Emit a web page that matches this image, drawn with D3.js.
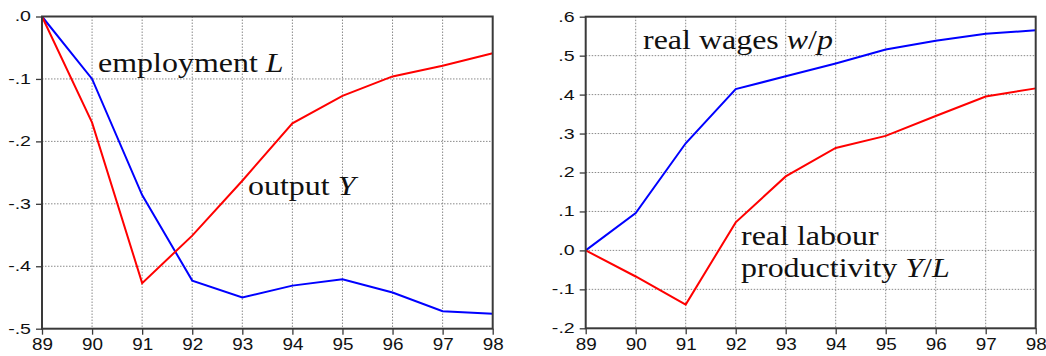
<!DOCTYPE html>
<html lang="en">
<head>
<meta charset="UTF-8">
<script src="https://d3js.org/d3.v7.min.js"></script>
<style>
    body { margin: 0; background: white; }
    svg { display: block; }
    .tick text { font-family: "Liberation Sans", Arial, sans-serif; fill: #111; }
    .lbl { font-family: "Liberation Serif", "Times New Roman", serif; fill: #111; }
</style>
</head>
<body>
<div id="chart"></div>
<script>
    // years on the x axis
    const years = ["89", "90", "91", "92", "93", "94", "95", "96", "97", "98"];

    // left panel
    const employment = [0, -0.100, -0.286, -0.423, -0.450, -0.431, -0.421, -0.442, -0.472, -0.476];
    const output = [0, -0.170, -0.427, -0.351, -0.263, -0.171, -0.127, -0.096, -0.079, -0.059];
    const leftTicks = [0, -0.1, -0.2, -0.3, -0.4, -0.5];

    // right panel
    const wages = [0, 0.096, 0.275, 0.414, 0.447, 0.480, 0.516, 0.538, 0.556, 0.565];
    const productivity = [0, -0.067, -0.139, 0.072, 0.190, 0.263, 0.294, 0.345, 0.395, 0.416];
    const rightTicks = [0.6, 0.5, 0.4, 0.3, 0.2, 0.1, 0, -0.1, -0.2];

    const W = 1046, H = 356;
    const svg = d3.select("#chart").append("svg")
        .attr("width", W)
        .attr("height", H);

    // ".0", "-.1" style labels with a plain hyphen
    const fmt = d => d3.format(".1f")(d).replace("\u2212", "-").replace("0.", ".");

    function panel(box, domain, ticks, series) {
        const x = d3.scalePoint().domain(years).range([box.left, box.right]);
        const y = d3.scaleLinear().domain(domain).range([box.bottom, box.top]);
        const g = svg.append("g");

        // dotted grid
        g.append("g").selectAll("line")
            .data(years.slice(1, -1))
            .enter().append("line")
            .attr("x1", d => x(d)).attr("x2", d => x(d))
            .attr("y1", box.top).attr("y2", box.bottom)
            .attr("stroke", "#8a8a8a").attr("stroke-dasharray", "1.5,1.5");
        g.append("g").selectAll("line")
            .data(ticks.slice(1, -1))
            .enter().append("line")
            .attr("x1", box.left).attr("x2", box.right)
            .attr("y1", d => y(d)).attr("y2", d => y(d))
            .attr("stroke", "#8a8a8a").attr("stroke-dasharray", "1.5,1.5");

        // series
        const line = d3.line()
            .x((d, i) => x(years[i]))
            .y(d => y(d));
        series.forEach(s => {
            g.append("path")
                .datum(s.values)
                .attr("fill", "none")
                .attr("stroke", s.color)
                .attr("stroke-width", 2)
                .attr("d", line);
        });

        // frame
        g.append("rect")
            .attr("x", box.left).attr("y", box.top)
            .attr("width", box.right - box.left)
            .attr("height", box.bottom - box.top)
            .attr("fill", "none")
            .attr("stroke", "#3a3a3a")
            .attr("stroke-width", 2);

        // axes
        const ax = g.append("g")
            .attr("transform", `translate(0,${box.bottom})`)
            .call(d3.axisBottom(x).tickSize(6).tickSizeOuter(0));
        ax.select(".domain").remove();
        ax.selectAll(".tick line").attr("stroke", "#3a3a3a").attr("stroke-width", 1.3);
        ax.selectAll(".tick text")
            .style("font-size", "16px")
            .attr("y", 10)
            .attr("transform", "scale(1.18,1)");

        const ay = g.append("g")
            .attr("transform", `translate(${box.left},0)`)
            .call(d3.axisLeft(y).tickValues(ticks).tickFormat(fmt).tickSize(6).tickSizeOuter(0));
        ay.select(".domain").remove();
        ay.selectAll(".tick line").attr("stroke", "#3a3a3a").attr("stroke-width", 1.3);
        ay.selectAll(".tick text")
            .style("font-size", "14px")
            .attr("x", -11 / 1.4)
            .attr("transform", "scale(1.4,1)");
    }

    panel({ left: 42, right: 492.7, top: 16.5, bottom: 328.7 }, [-0.5, 0], leftTicks, [
        { values: employment, color: "#0000ff" },
        { values: output, color: "#ff0000" }
    ]);
    panel({ left: 585.7, right: 1035.7, top: 16.7, bottom: 328.3 }, [-0.2, 0.6], rightTicks, [
        { values: wages, color: "#0000ff" },
        { values: productivity, color: "#ff0000" }
    ]);

    // serif labels: parts = [text, italic?]
    function label(px, py, parts) {
        const t = svg.append("text")
            .attr("class", "lbl")
            .attr("transform", `translate(${px},${py}) scale(1.23,1.08)`)
            .style("font-size", "26px");
        parts.forEach(p => {
            t.append("tspan")
                .style("font-style", p[1] ? "italic" : "normal")
                .text(p[0]);
        });
    }

    label(98, 71.5, [["employment ", false], ["L", true]]);
    label(248, 195, [["output ", false], ["Y", true]]);
    label(643, 48.5, [["real wages ", false], ["w", true], ["/", false], ["p", true]]);
    label(741, 245, [["real labour", false]]);
    label(741, 276.5, [["productivity ", false], ["Y", true], ["/", false], ["L", true]]);
</script>
</body>
</html>
